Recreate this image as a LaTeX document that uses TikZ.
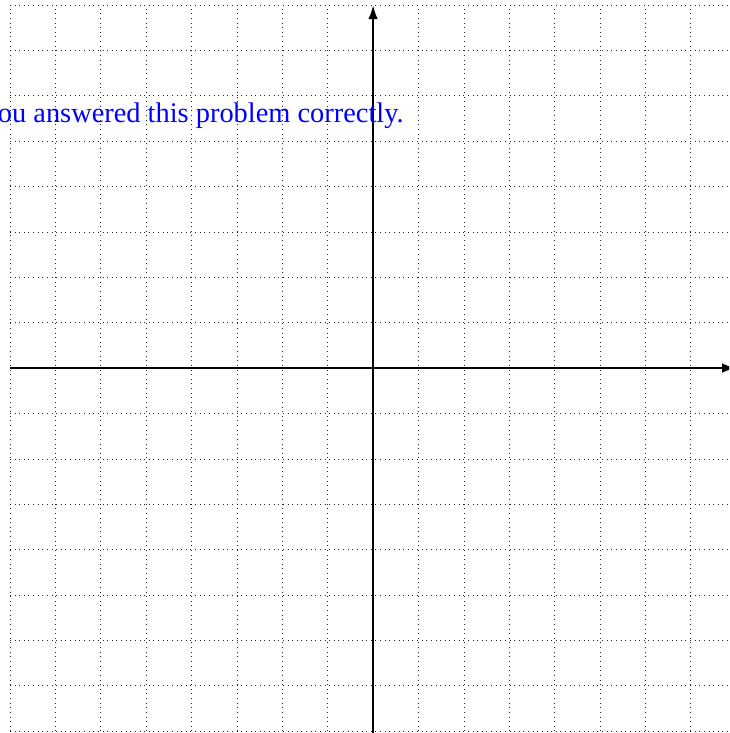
\documentclass[tikz,border=0pt]{standalone}
\usepackage{fontspec}
\setmainfont{Liberation Serif}
\usetikzlibrary{arrows.meta}
\begin{document}
\begin{tikzpicture}[x=1cm,y=1cm,
  gridline/.style={line width=0.45pt, dash pattern=on 0.5pt off 2.4pt, black!85},
  axisline/.style={line width=1.3pt, -{Latex[length=3.1mm,width=2.1mm]}},
  msg/.style={text=blue, font=\fontsize{17.8}{21}\selectfont, anchor=base east, inner sep=0pt}]
\useasboundingbox (-8.22,-8.04) rectangle (7.846,8.11);
\clip (-8.22,-8.04) rectangle (7.846,8.11);
\draw[gridline] (-8,-8) grid (8,8);
\coordinate (xs) at (-8,0);
\coordinate (xe) at (8,0);
\coordinate (ys) at (0,-8.2);
\coordinate (ye) at (0,8);
\draw[axisline] (xs) -- (xe);
\draw[axisline] (ys) -- (ye);
\node[msg] (m) at (0.683,5.42) {You answered this problem correctly.};
\end{tikzpicture}
\end{document}
